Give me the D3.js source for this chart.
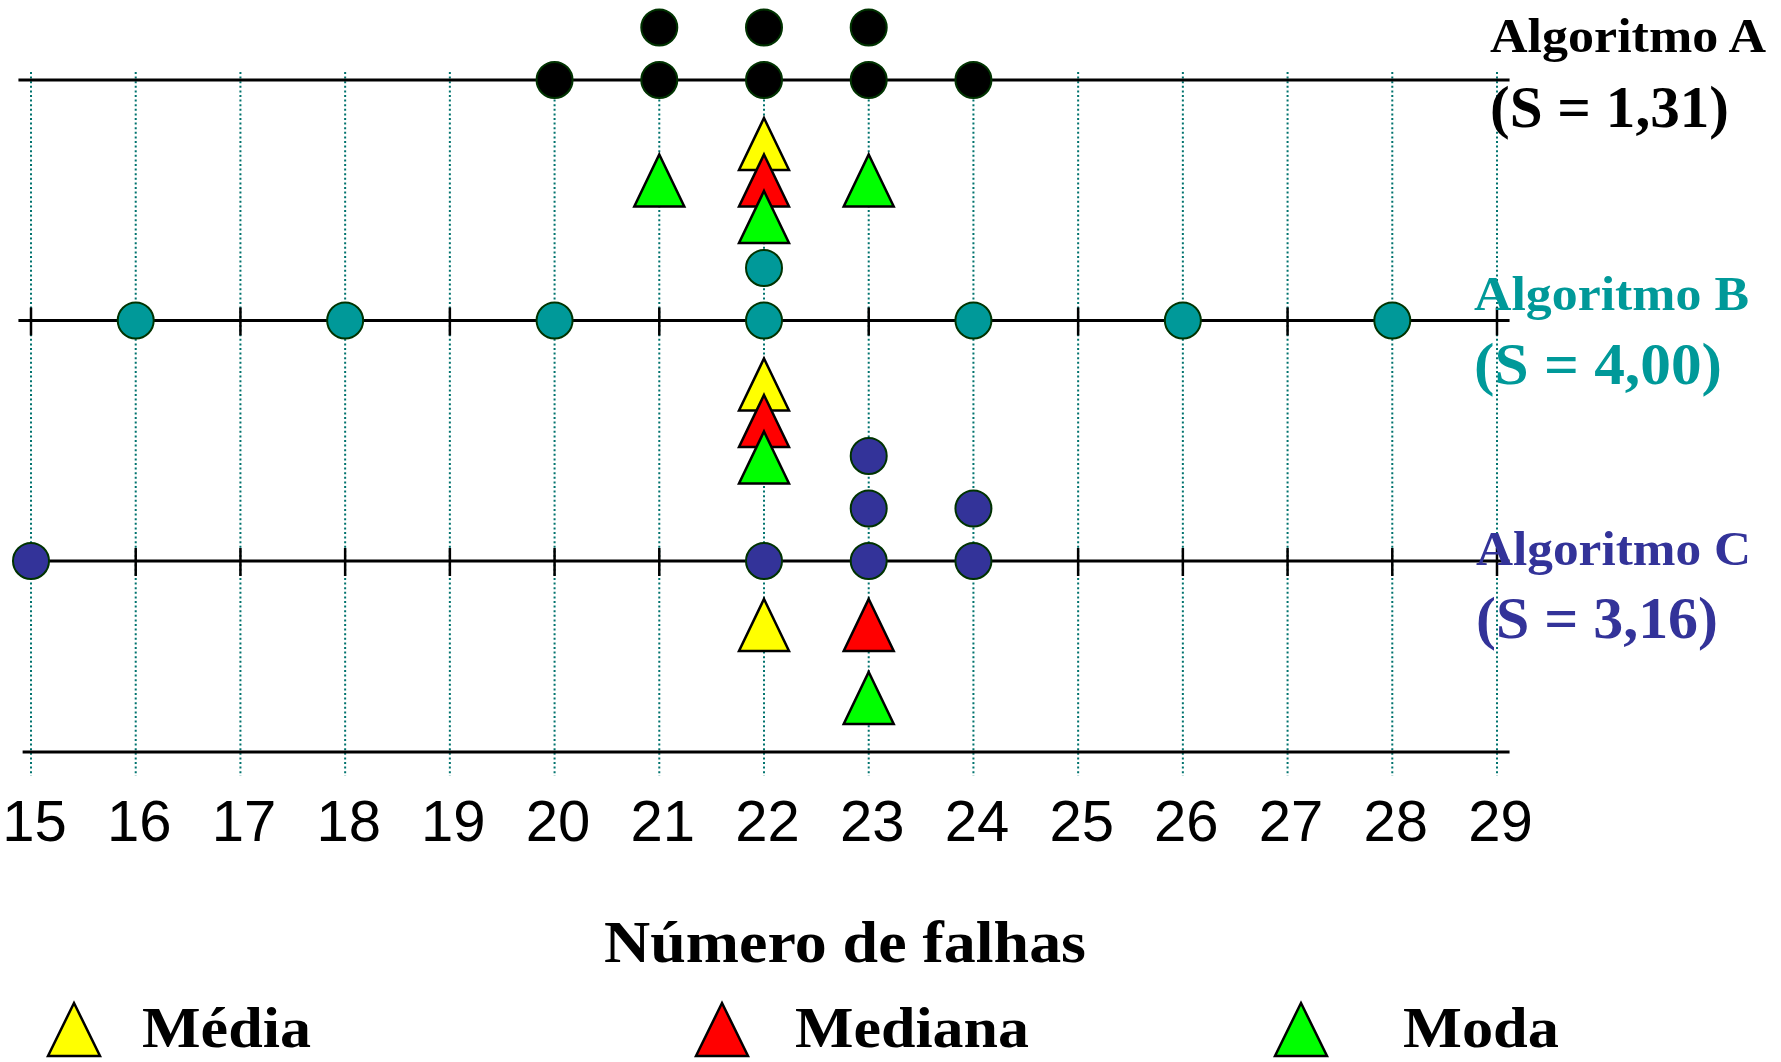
<html>
  <head>
    <title>Número de falhas</title>
    <meta charset="utf-8" />
    <script src="https://cdnjs.cloudflare.com/ajax/libs/d3/7.6.1/d3.min.js"></script>
    <style>
      body {
        margin: 0;
        background: #fff;
      }
      svg {
        display: block;
      }
    </style>
  </head>
  <body>
    <svg width="1781" height="1062"></svg>
  </body>

  <script>
    const xTicks = [15, 16, 17, 18, 19, 20, 21, 22, 23, 24, 25, 26, 27, 28, 29];

    const algoNames = ["Algoritmo A", "Algoritmo B", "Algoritmo C"];
    const algoA = [20, 21, 21, 22, 22, 23, 23, 24];
    const algoB = [16, 18, 20, 22, 22, 24, 26, 28];
    const algoC = [15, 22, 23, 23, 23, 24, 24];

    // triangles under each line: statistic, value, row (stacking order)
    const statsA = [
      { stat: "media", value: 22, row: 0 },
      { stat: "mediana", value: 22, row: 1 },
      { stat: "moda", value: 21, row: 1 },
      { stat: "moda", value: 22, row: 2 },
      { stat: "moda", value: 23, row: 1 },
    ];
    const statsB = [
      { stat: "media", value: 22, row: 0 },
      { stat: "mediana", value: 22, row: 1 },
      { stat: "moda", value: 22, row: 2 },
    ];
    const statsC = [
      { stat: "media", value: 22, row: 0 },
      { stat: "mediana", value: 23, row: 0 },
      { stat: "moda", value: 23, row: 2 },
    ];

    const legendStats = ["media", "mediana", "moda"];
    const legendLabels = ["Média", "Mediana", "Moda"];
    const axisTitle = "Número de falhas";

    const statColor = { media: "#ffff00", mediana: "#ff0000", moda: "#00ff00" };
    const algoColor = ["#000000", "#009999", "#333399"];

    const svg = d3.select("svg");
    const locale = d3.formatLocale({ decimal: ",", thousands: ".", grouping: [3], currency: ["", ""] });
    const fmt = locale.format(".2f");

    const xScale = d3.scaleLinear().domain([15, 29]).range([31, 1497]);
    const lineY = d3.scalePoint().domain(algoNames).range([80, 561]);
    const stackY = d3.scaleLinear().domain([0, 1]).range([0, -52.5]);
    const rowY = d3.scaleLinear().domain([0, 2]).range([90, 163]);

    const serif = "'Liberation Serif', 'DejaVu Serif', serif";

    // dotted gridlines
    svg
      .append("g")
      .selectAll("line")
      .data(xTicks)
      .join("line")
      .attr("x1", (d) => xScale(d))
      .attr("x2", (d) => xScale(d))
      .attr("y1", 72)
      .attr("y2", 776)
      .attr("stroke", "#00736e")
      .attr("stroke-width", 2)
      .attr("stroke-dasharray", "2,2.6");

    // horizontal lines
    const lineX0 = xScale(14.88);
    const lineX1 = xScale(29.12);
    algoNames.forEach((name) => {
      svg
        .append("line")
        .attr("x1", lineX0)
        .attr("x2", lineX1)
        .attr("y1", lineY(name))
        .attr("y2", lineY(name))
        .attr("stroke", "#000")
        .attr("stroke-width", 3);
    });

    // tick marks on B and C
    algoNames.slice(1).forEach((name) => {
      svg
        .append("g")
        .selectAll("line")
        .data(xTicks)
        .join("line")
        .attr("x1", (d) => xScale(d))
        .attr("x2", (d) => xScale(d))
        .attr("y1", lineY(name) - 13)
        .attr("y2", lineY(name) + 15)
        .attr("stroke", "#000")
        .attr("stroke-width", 2.5);
    });

    // bottom axis
    const axisG = svg
      .append("g")
      .attr("transform", "translate(0,752)")
      .call(d3.axisBottom(xScale).tickValues(xTicks).tickSize(0));
    axisG.select(".domain").remove();
    axisG
      .append("line")
      .attr("x1", xScale(14.92))
      .attr("x2", lineX1)
      .attr("stroke", "#000")
      .attr("stroke-width", 3);
    axisG
      .selectAll(".tick text")
      .attr("y", 89)
      .attr("dy", 0)
      .attr("dx", 3)
      .attr("fill", "#000")
      .style("font-family", "'Liberation Sans', Arial, sans-serif")
      .style("font-size", "58px");

    // dots, stacked upward for repeated values
    function stacked(values) {
      const seen = {};
      return values.map((v) => {
        seen[v] = (seen[v] || 0) + 1;
        return { value: v, k: seen[v] - 1 };
      });
    }

    [algoA, algoB, algoC].forEach((values, i) => {
      const base = lineY(algoNames[i]);
      svg
        .append("g")
        .selectAll("circle")
        .data(stacked(values))
        .join("circle")
        .attr("cx", (d) => xScale(d.value))
        .attr("cy", (d) => base + stackY(d.k))
        .attr("r", 18)
        .attr("fill", algoColor[i])
        .attr("stroke", "#003300")
        .attr("stroke-width", 2);
    });

    // triangles
    const triW = 50;
    const triH = 52;
    function triangle(cx, baseY) {
      return `M${cx},${baseY - triH}L${cx + triW / 2},${baseY}L${cx - triW / 2},${baseY}Z`;
    }

    [statsA, statsB, statsC].forEach((stats, i) => {
      const base = lineY(algoNames[i]);
      svg
        .append("g")
        .selectAll("path")
        .data(stats)
        .join("path")
        .attr("d", (d) => triangle(xScale(d.value), base + rowY(d.row)))
        .attr("fill", (d) => statColor[d.stat])
        .attr("stroke", "#000")
        .attr("stroke-width", 2.5)
        .attr("stroke-linejoin", "miter");
    });

    // algorithm labels with standard deviation
    const labelPos = [
      { x: 1490, y1: 52, w1: 276, y2: 127, w2: 239 },
      { x: 1474, y1: 310, w1: 275, y2: 384, w2: 248 },
      { x: 1476, y1: 565, w1: 275, y2: 638, w2: 242 },
    ];
    [algoA, algoB, algoC].forEach((values, i) => {
      const p = labelPos[i];
      svg
        .append("text")
        .attr("x", p.x)
        .attr("y", p.y1)
        .attr("fill", algoColor[i])
        .attr("textLength", p.w1)
        .attr("lengthAdjust", "spacingAndGlyphs")
        .style("font-family", serif)
        .style("font-weight", "bold")
        .style("font-size", "49px")
        .text(algoNames[i]);
      svg
        .append("text")
        .attr("x", p.x)
        .attr("y", p.y2)
        .attr("fill", algoColor[i])
        .attr("textLength", p.w2)
        .attr("lengthAdjust", "spacingAndGlyphs")
        .style("font-family", serif)
        .style("font-weight", "bold")
        .style("font-size", "60px")
        .text(`(S = ${fmt(d3.deviation(values))})`);
    });

    // axis title
    svg
      .append("text")
      .attr("x", 604)
      .attr("y", 962)
      .attr("textLength", 482)
      .attr("lengthAdjust", "spacingAndGlyphs")
      .style("font-family", serif)
      .style("font-weight", "bold")
      .style("font-size", "60px")
      .text(axisTitle);

    // legend
    const legendTriX = [74, 722, 1301];
    const legendTextX = [142, 795, 1403];
    const legendTextW = [169, 234, 156];
    legendStats.forEach((s, i) => {
      svg
        .append("path")
        .attr("d", `M${legendTriX[i]},1003L${legendTriX[i] + 26},1056L${legendTriX[i] - 26},1056Z`)
        .attr("fill", statColor[s])
        .attr("stroke", "#000")
        .attr("stroke-width", 2.5);
      svg
        .append("text")
        .attr("x", legendTextX[i])
        .attr("y", 1047)
        .attr("textLength", legendTextW[i])
        .attr("lengthAdjust", "spacingAndGlyphs")
        .style("font-family", serif)
        .style("font-weight", "bold")
        .style("font-size", "57px")
        .text(legendLabels[i]);
    });
  </script>
</html>
